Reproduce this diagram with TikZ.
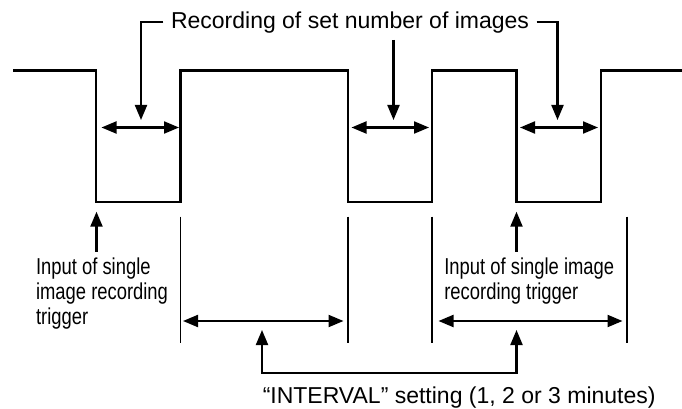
\documentclass[tikz,border=0pt]{standalone}
\usepackage{fontspec}
\setmainfont{Liberation Sans}
\newfontfamily\narrowfont{Liberation Sans}[FakeStretch=0.8]
\usetikzlibrary{arrows.meta}

\begin{document}
\begin{tikzpicture}[x=1pt, y=-1pt, line width=2.1pt,
    tip/.style={-{Triangle[length=15pt,width=12pt]}},
    span/.style={{Triangle[length=15pt,width=12pt]}-{Triangle[length=15pt,width=12pt]}},
    tick/.style={line width=1.7pt},
    lbl/.style={inner sep=0pt, font=\fontsize{23}{25}\selectfont},
    side/.style={inner sep=0pt, align=left, font=\fontsize{23}{25}\selectfont\narrowfont}]
    \useasboundingbox (0,0) rectangle (682,409);
    % signal
    \draw (13,70.5) -- (96,70.5) -- (96,202) -- (180.5,202) -- (180.5,70.5) -- (348,70.5) -- (348,202)
      -- (432,202) -- (432,70.5) -- (516.5,70.5) -- (516.5,202) -- (601,202) -- (601,70.5) -- (682,70.5);
    % recording of set number of images
    \node[lbl, anchor=base] (rec) at (350,28.3) {Recording of set number of images};
    \coordinate (recA) at (141,120);
    \coordinate (recB) at (393.5,120);
    \coordinate (recC) at (557.5,120);
    \coordinate (recM) at (393.5,40);
    \draw[tip] ([xshift=-6.5pt]rec.west) -| (recA);
    \draw[tip] ([xshift=6.5pt]rec.east) -| (recC);
    \draw[tip] (recM) -- (recB);
    \draw[span] (101.5,127.5) -- (179,127.5);
    \draw[span] (351.5,127.5) -- (429,127.5);
    \draw[span] (520,127.5) -- (598,127.5);
    % trigger
    \node[side, anchor=north west] (trigA) at (35,257) {Input of single\\image recording\\trigger};
    \node[side, anchor=north west] (trigB) at (443.3,256.5) {Input of single image\\recording trigger};
    \coordinate (inA) at (96.5,211.7);
    \coordinate (inB) at (516.5,211.7);
    \draw[tip] (inA |- 0,251.7) -- (inA);
    \draw[tip] (inB |- 0,251.7) -- (inB);
    % interval
    \foreach \x in {180.5,348,432,627}
      \draw[tick] (\x,216.7) -- (\x,342.7);
    \draw[span] (183,321) -- (343.5,321);
    \draw[span] (438.5,321) -- (622.5,321);
    \node[lbl, anchor=base west] (ivl) at (261.7,403.3) {“INTERVAL” setting (1, 2 or 3 minutes)};
    \coordinate (ivA) at (262,330);
    \coordinate (ivB) at (516.5,330);
    \draw[span] (ivA) -- (ivA |- 0,373.3) -- (ivB |- 0,373.3) -- (ivB);
  \end{tikzpicture}
\end{document}
